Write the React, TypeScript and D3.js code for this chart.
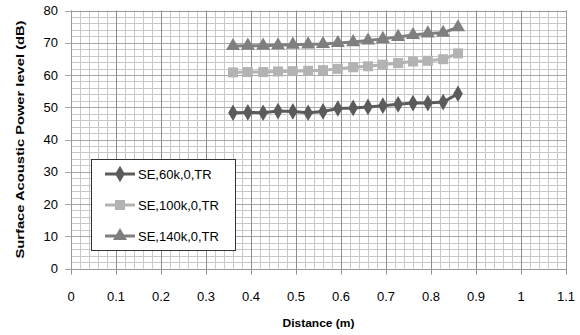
import React, { useEffect, useRef } from 'react';
import * as d3 from 'd3';

// distance (m) of each measuring point
const distances = [0.36, 0.393, 0.427, 0.46, 0.493, 0.527, 0.56, 0.593, 0.627, 0.66, 0.693, 0.727, 0.76, 0.793, 0.827, 0.86];

const se60k = [48.3, 48.4, 48.3, 48.8, 48.7, 48.3, 48.7, 49.6, 49.8, 50.1, 50.5, 50.9, 51.3, 51.3, 51.6, 54.2];
const se100k = [60.8, 60.9, 60.9, 61.1, 61.2, 61.3, 61.5, 61.9, 62.4, 62.7, 63.2, 63.7, 64.2, 64.4, 64.9, 66.7];
const se140k = [69.0, 69.1, 69.1, 69.2, 69.4, 69.5, 69.6, 69.9, 70.2, 70.7, 71.2, 71.8, 72.4, 72.9, 73.1, 74.8];

const seriesNames = ['SE,60k,0,TR', 'SE,100k,0,TR', 'SE,140k,0,TR'];
const xTicks = [0, 0.1, 0.2, 0.3, 0.4, 0.5, 0.6, 0.7, 0.8, 0.9, 1, 1.1];
const yTicks = [0, 10, 20, 30, 40, 50, 60, 70, 80];

const W = 580;
const H = 335;
const FONT = '"Liberation Sans", Arial, sans-serif';

export default function App() {
  const svgRef = useRef<SVGSVGElement>(null);

  useEffect(() => {
    const svg = d3.select(svgRef.current);
    svg.selectAll('*').remove();

    const left = 71, right = 566, top = 10.5, bottom = 268.5;

    const x = d3.scaleLinear().domain([0, 1.1]).range([left, right]);
    const y = d3.scaleLinear().domain([0, 80]).range([bottom, top]);

    svg.append('rect').attr('width', W).attr('height', H).attr('fill', '#fff');

    const g = svg.append('g');
    const crisp = (v: number) => Math.round(v) + 0.5;

    // minor grid
    d3.range(0, 1.1001, 0.02).forEach(v => {
      g.append('line')
        .attr('x1', crisp(x(v))).attr('x2', crisp(x(v)))
        .attr('y1', y(80)).attr('y2', y(0))
        .attr('stroke', '#c8c8c8').attr('stroke-width', 1);
    });
    d3.range(0, 80.001, 2).forEach(v => {
      g.append('line')
        .attr('x1', x(0)).attr('x2', x(1.1))
        .attr('y1', crisp(y(v))).attr('y2', crisp(y(v)))
        .attr('stroke', '#c8c8c8').attr('stroke-width', 1);
    });

    // major grid
    yTicks.forEach(v => {
      g.append('line')
        .attr('x1', x(0) - 6).attr('x2', x(1.1))
        .attr('y1', crisp(y(v))).attr('y2', crisp(y(v)))
        .attr('stroke', '#a8a8a8').attr('stroke-width', 1);
    });
    xTicks.forEach(v => {
      g.append('line')
        .attr('x1', crisp(x(v))).attr('x2', crisp(x(v)))
        .attr('y1', y(80)).attr('y2', y(0) + 6)
        .attr('stroke', '#8e8e8e').attr('stroke-width', 1);
    });

    // plot border
    g.append('rect')
      .attr('x', crisp(x(0))).attr('y', crisp(y(80)))
      .attr('width', Math.round(x(1.1)) - Math.round(x(0)))
      .attr('height', Math.round(y(0)) - Math.round(y(80)))
      .attr('fill', 'none').attr('stroke', '#9a9a9a');

    // tick labels
    g.selectAll('.ylab').data(yTicks).enter().append('text')
      .attr('x', 58).attr('y', d => y(d)).attr('dy', '0.35em')
      .attr('text-anchor', 'end').attr('font-size', 13).attr('font-family', FONT)
      .attr('fill', '#000').text(d => d);

    g.selectAll('.xlab').data(xTicks).enter().append('text')
      .attr('x', d => x(d)).attr('y', 301)
      .attr('text-anchor', 'middle').attr('font-size', 13).attr('font-family', FONT)
      .attr('fill', '#000').text(d => d);

    // axis titles
    svg.append('text')
      .attr('transform', `translate(24,${(top + bottom) / 2}) rotate(-90)`)
      .attr('text-anchor', 'middle').attr('font-size', 11).attr('font-weight', 'bold')
      .attr('font-family', FONT).attr('textLength', 238).attr('lengthAdjust', 'spacingAndGlyphs')
      .text('Surface Acoustic Power level (dB)');

    svg.append('text')
      .attr('x', (left + right) / 2).attr('y', 327)
      .attr('text-anchor', 'middle').attr('font-size', 11).attr('font-weight', 'bold')
      .attr('font-family', FONT).attr('textLength', 72).attr('lengthAdjust', 'spacingAndGlyphs')
      .text('Distance (m)');

    // series
    const series = [
      { name: seriesNames[0], values: se60k, color: '#5b5b5b', symbol: d3.symbolDiamond, size: 80, sw: 3 },
      { name: seriesNames[1], values: se100k, color: '#b3b3b3', symbol: d3.symbolSquare, size: 100, sw: 3 },
      { name: seriesNames[2], values: se140k, color: '#7f7f7f', symbol: d3.symbolTriangle, size: 85, sw: 3 },
    ];

    const line = d3.line<[number, number]>().x(d => x(d[0])).y(d => y(d[1]));

    series.forEach(s => {
      const pts = distances.map((d, i) => [d, s.values[i]] as [number, number]);
      g.append('path').datum(pts)
        .attr('d', line).attr('fill', 'none')
        .attr('stroke', s.color).attr('stroke-width', s.sw);
      g.selectAll(null).data(pts).enter().append('path')
        .attr('transform', d => `translate(${x(d[0])},${y(d[1])})`)
        .attr('d', d3.symbol().type(s.symbol).size(s.size)())
        .attr('fill', s.color);
    });

    // legend
    const lg = svg.append('g');
    lg.append('rect')
      .attr('x', 91.5).attr('y', 159.5).attr('width', 144).attr('height', 91)
      .attr('fill', '#fff').attr('stroke', '#333').attr('stroke-width', 1);

    series.forEach((s, i) => {
      const cy = 174 + i * 31;
      lg.append('line')
        .attr('x1', 105).attr('x2', 135).attr('y1', cy).attr('y2', cy)
        .attr('stroke', s.color).attr('stroke-width', s.sw);
      lg.append('path')
        .attr('transform', `translate(120,${cy})`)
        .attr('d', d3.symbol().type(s.symbol).size(s.size)())
        .attr('fill', s.color);
      lg.append('text')
        .attr('x', 138).attr('y', cy).attr('dy', '0.35em')
        .attr('font-size', 13).attr('font-family', FONT).attr('fill', '#000')
        .text(s.name);
    });
  }, []);

  return (
    <div style={{ position: 'absolute', left: 0, top: 0 }}>
      <svg ref={svgRef} width={W} height={H} style={{ display: 'block' }}></svg>
    </div>
  );
}
